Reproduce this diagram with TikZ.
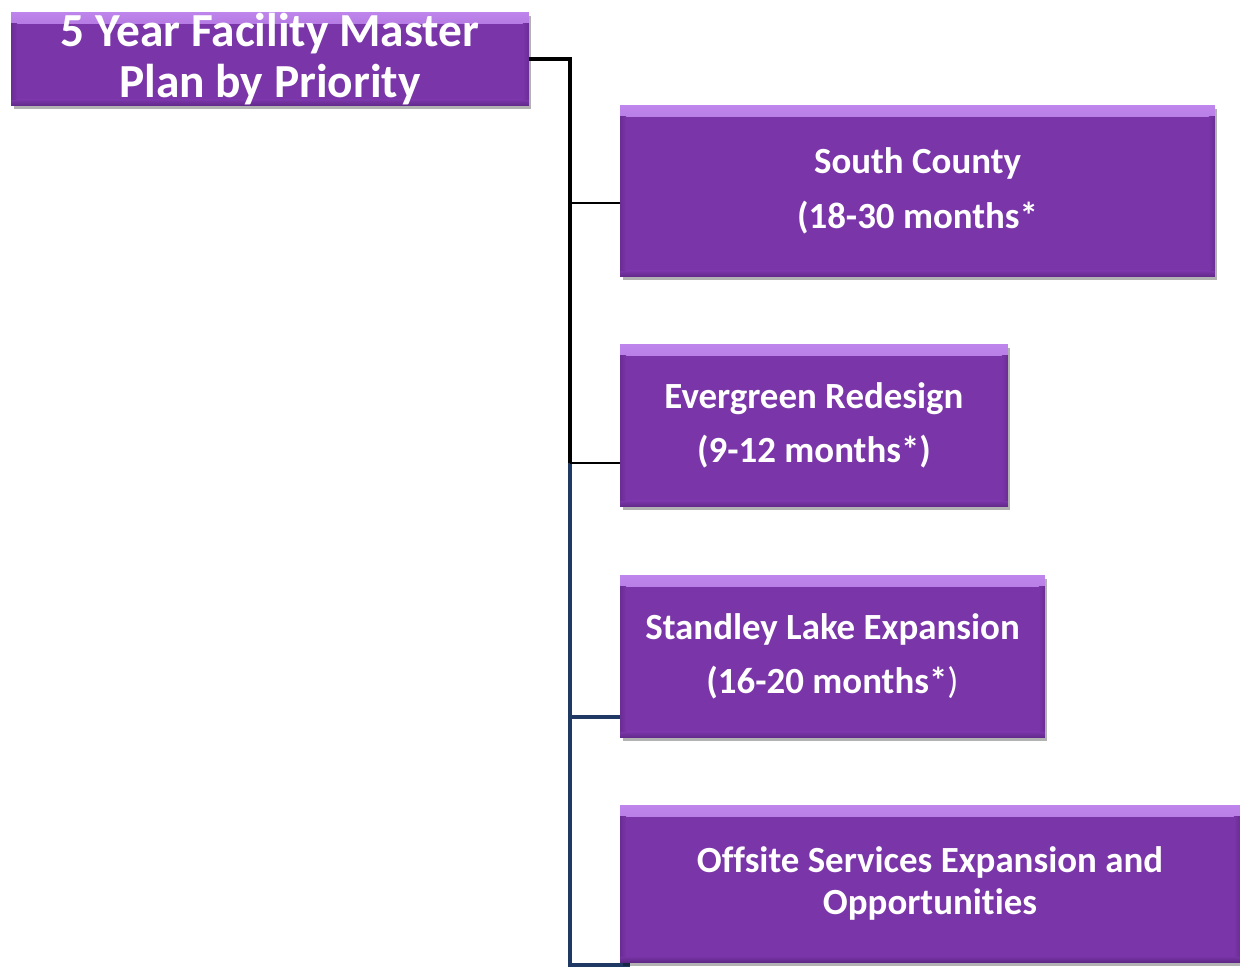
\documentclass[tikz,border=0pt]{standalone}
\usepackage{fontspec}
\setmainfont{Carlito}[Ligatures={NoCommon}, RawFeature={-calt;-clig;-liga}]
\usetikzlibrary{shadows}
\definecolor{boxpurple}{HTML}{7A35A8}
\definecolor{bevtop}{HTML}{BE85EC}
\definecolor{bevdark}{HTML}{5F2787}
\definecolor{navyline}{HTML}{1F3864}
\tikzset{
  planbox/.style={rectangle, fill=boxpurple, text=white, align=center,
    inner sep=0pt, font=\bfseries\fontsize{21}{31}\selectfont,
    drop shadow={shadow xshift=0.05cm, shadow yshift=-0.07cm, fill=black, opacity=0.3},
    path picture={
      \shade[top color=bevtop, bottom color=boxpurple]
        (path picture bounding box.north west) rectangle ([yshift=-0.22cm]path picture bounding box.north east);
      \shade[top color=boxpurple, bottom color=bevdark]
        ([yshift=0.12cm]path picture bounding box.south west) rectangle (path picture bounding box.south east);
      \shade[left color=bevdark!60!boxpurple, right color=boxpurple]
        ([yshift=-0.22cm]path picture bounding box.north west) rectangle ([xshift=0.12cm,yshift=0.12cm]path picture bounding box.south west);
      \shade[left color=boxpurple, right color=bevdark!60!boxpurple]
        ([xshift=-0.12cm,yshift=-0.22cm]path picture bounding box.north east) rectangle ([yshift=0.12cm]path picture bounding box.south east);
    }},
  trunkblack/.style={draw=black, line width=2pt},
  trunknavy/.style={draw=navyline, line width=1.8pt},
  thinlink/.style={draw=black, line width=0.9pt},
}
\begin{document}
\begin{tikzpicture}[x=0.02cm, y=-0.02cm]
\useasboundingbox (0,0) rectangle (1240,967);

% junction points on the trunk
\coordinate (j1) at (570,203);
\coordinate (j2) at (570,463);
\coordinate (j3) at (570,717);
\coordinate (j4) at (570,965);
\coordinate (jend) at (570,967);

% bottom branch runs just under the last box
\draw[trunknavy] (j4) -- ++(60,0);

\node[planbox, minimum width=10.36cm, minimum height=1.88cm,
  font=\bfseries\fontsize{27}{29.5}\selectfont] (title) at (270,59)
  {5 Year Facility Master\\Plan by Priority};

\node[planbox, minimum width=11.9cm, minimum height=3.44cm] (south) at (917.5,191)
  {South County\\(18-30 months*};
\node[planbox, minimum width=7.76cm, minimum height=3.26cm] (ever) at (814,425.5)
  {Evergreen Redesign\\(9-12 months*)};
\node[planbox, minimum width=8.5cm, minimum height=3.26cm] (stand) at (832.5,656.5)
  {Standley Lake Expansion\\(16-20 months*{\mdseries)}};
\node[planbox, minimum width=12.4cm, minimum height=3.14cm,
  font=\bfseries\fontsize{21}{23.8}\selectfont] (off) at (930,883.5)
  {Offsite Services Expansion and\\Opportunities};

% trunk
\draw[trunkblack] (title.east) -| (j2);
\draw[trunknavy] (j2) -- (jend);

% branches
\draw[thinlink] (j1) -- (j1 -| south.west);
\draw[thinlink] (j2) -- (j2 -| ever.west);
\draw[trunknavy] (j3) -- (j3 -| stand.west);
\end{tikzpicture}
\end{document}
